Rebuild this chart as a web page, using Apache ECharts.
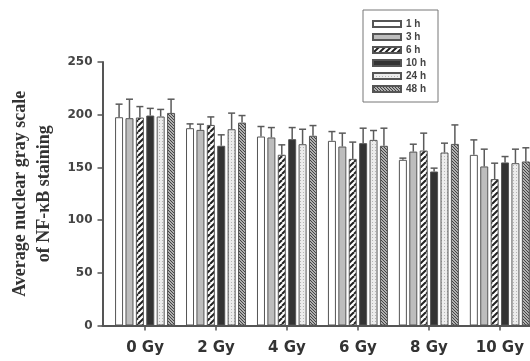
<!DOCTYPE html>
<html>
<head>
<meta charset="utf-8">
<script src="https://cdn.jsdelivr.net/npm/echarts@6/dist/echarts.min.js"></script>
<style>
  html, body { margin: 0; padding: 0; background: #fff; }
  #chart { width: 530px; height: 361px; }
</style>
</head>
<body>
<div id="chart"></div>
<script>
// Radiation dose groups (x axis)
const doseLabels = ['0 Gy', '2 Gy', '4 Gy', '6 Gy', '8 Gy', '10 Gy'];
const doseValues = [0, 2, 4, 6, 8, 10];

// Time points after irradiation (one bar series each)
const timeLabels = ['1 h', '3 h', '6 h', '10 h', '24 h', '48 h'];

// Mean nuclear gray scale per time point, in dose order
const mean1h  = [197.6, 187.2, 179.3, 175.2, 157.2, 161.9];
const mean3h  = [196.7, 185.6, 178.4, 169.8, 165.0, 150.9];
const mean6h  = [197.3, 190.3, 162.0, 158.1, 166.0, 138.9];
const mean10h = [199.2, 170.5, 176.8, 173.0, 146.1, 154.7];
const mean24h = [198.3, 186.2, 172.0, 176.1, 164.1, 154.0];
const mean48h = [201.7, 192.5, 180.0, 170.5, 172.3, 155.6];

// Standard deviations (upper error bars)
const sd1h  = [12.4, 4.1, 9.5, 8.8, 1.6, 14.2];
const sd3h  = [18.0, 5.4, 9.4, 12.7, 7.0, 16.4];
const sd6h  = [10.4, 7.6, 9.4, 15.9, 16.5, 15.1];
const sd10h = [6.8, 10.4, 11.0, 14.2, 3.2, 5.6];
const sd24h = [6.7, 15.3, 14.2, 8.9, 8.9, 13.3];
const sd48h = [13.0, 6.7, 9.7, 16.7, 18.0, 13.0];

// Y axis ticks
const yTicks = [0, 50, 100, 150, 200, 250];

const means = [mean1h, mean3h, mean6h, mean10h, mean24h, mean48h];
const sds = [sd1h, sd3h, sd6h, sd10h, sd24h, sd48h];

// ---- fill patterns ----
function hatch(bg, fg, step, lw, forward) {
  const c = document.createElement('canvas');
  c.width = step; c.height = step;
  const g = c.getContext('2d');
  g.fillStyle = bg; g.fillRect(0, 0, step, step);
  g.strokeStyle = fg; g.lineWidth = lw;
  for (let k = -1; k <= 1; k++) {
    g.beginPath();
    if (forward) { g.moveTo(k * step, step); g.lineTo(k * step + step, 0); }
    else { g.moveTo(k * step, 0); g.lineTo(k * step + step, step); }
    g.stroke();
  }
  return { image: c, repeat: 'repeat' };
}
function dots(bg, fg) {
  const c = document.createElement('canvas');
  c.width = 3; c.height = 3;
  const g = c.getContext('2d');
  g.fillStyle = bg; g.fillRect(0, 0, 3, 3);
  g.fillStyle = fg; g.fillRect(0, 0, 1, 1);
  return { image: c, repeat: 'repeat' };
}

const fills = [
  '#ffffff',
  '#bdbdbd',
  hatch('#ffffff', '#222222', 6, 2, true),
  '#333333',
  dots('#ececec', '#b5b5b5'),
  hatch('#b0b0b0', '#444444', 3, 1, false)
];

const BAR_W = 8;
const BAR_GAP = 0.3;
const STEP = BAR_W * (1 + BAR_GAP);

const barSeries = timeLabels.map((name, k) => ({
  name: name,
  type: 'bar',
  barWidth: BAR_W,
  barGap: (BAR_GAP * 100) + '%',
  itemStyle: { color: fills[k], borderColor: '#555', borderWidth: 1 },
  data: doseValues.map((d, i) => [d, means[k][i]]),
  z: 2
}));

const errData = [];
timeLabels.forEach((name, k) => {
  doseValues.forEach((d, i) => {
    errData.push([d, means[k][i], means[k][i] + sds[k][i], k]);
  });
});

const errorSeries = {
  name: 'sd',
  type: 'custom',
  encode: { x: 0, y: [1, 2] },
  data: errData,
  z: 3,
  renderItem: function (params, api) {
    const x = api.value(0);
    const lo = api.coord([x, api.value(1)]);
    const hi = api.coord([x, api.value(2)]);
    const off = (api.value(3) - 2.5) * STEP;
    const cx = lo[0] + off;
    const cap = 3.5;
    const style = { stroke: '#5a5a5a', lineWidth: 1.5 };
    return {
      type: 'group',
      children: [
        { type: 'line', shape: { x1: cx, y1: lo[1], x2: cx, y2: hi[1] }, style: style },
        { type: 'line', shape: { x1: cx - cap, y1: hi[1], x2: cx + cap, y2: hi[1] }, style: style }
      ]
    };
  }
};

const chart = echarts.init(document.getElementById('chart'), null, { renderer: 'canvas' });
chart.setOption({
  animation: false,
  backgroundColor: '#ffffff',
  grid: { left: 102.5, right: 0, top: 62, bottom: 35.5, outerBoundsMode: 'none', containLabel: false },
  legend: {
    data: timeLabels,
    orient: 'vertical',
    left: 363,
    top: 10,
    padding: [8, 12, 7, 9],
    itemWidth: 28,
    itemHeight: 6,
    itemGap: 1,
    borderColor: '#777',
    borderWidth: 1,
    icon: 'rect',
    textStyle: { fontFamily: 'Liberation Sans', fontWeight: 'bold', fontSize: 10, color: '#444', lineHeight: 12 }
  },
  xAxis: {
    type: 'value',
    min: -1.2,
    max: 10.85,
    splitLine: { show: false },
    axisLine: { show: true, onZero: false, lineStyle: { color: '#555', width: 2 } },
    axisTick: { show: true, length: 5, customValues: doseValues, lineStyle: { color: '#555', width: 1.5 } },
    axisLabel: {
      customValues: doseValues,
      formatter: v => doseLabels[doseValues.indexOf(v)],
      margin: 15,
      fontFamily: 'DejaVu Sans',
      fontWeight: 'bold',
      fontSize: 15,
      color: '#333'
    }
  },
  yAxis: {
    type: 'value',
    min: yTicks[0],
    max: yTicks[yTicks.length - 1],
    interval: 50,
    name: 'Average nuclear gray scale\nof NF-κB staining',
    nameLocation: 'middle',
    nameRotate: 90,
    nameGap: 35,
    nameTextStyle: { fontFamily: 'Liberation Serif', fontWeight: 'bold', fontSize: 18, color: '#333', lineHeight: 24 },
    splitLine: { show: false },
    axisLine: { show: true, onZero: false, lineStyle: { color: '#555', width: 2 } },
    axisTick: { show: true, length: 5, lineStyle: { color: '#555', width: 1.5 } },
    axisLabel: { margin: 10, fontFamily: 'DejaVu Sans', fontWeight: 'bold', fontSize: 12, color: '#444' }
  },
  series: barSeries.concat([errorSeries])
});
</script>
</body>
</html>
